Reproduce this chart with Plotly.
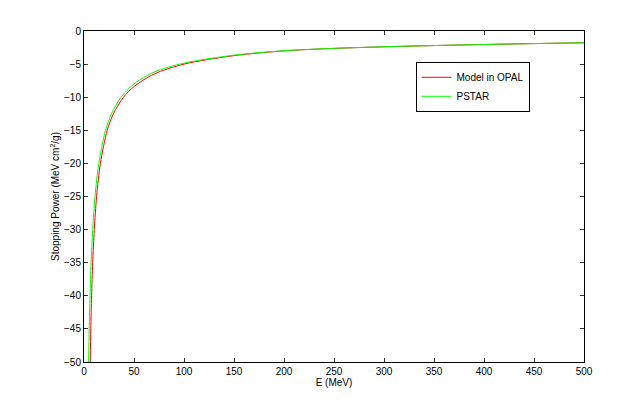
import plotly.graph_objects as go

# energies (MeV) and stopping power values
opal_e = [6.2, 6.8, 7.6, 8.7, 10.3, 12.6, 16.4, 23.2, 29.4, 39.5, 50, 70, 100, 150, 200, 250, 300, 350, 400, 450, 500]
opal_sp = [-50, -45, -40, -35, -30, -25, -20, -15, -12.5, -10, -8.4, -6.5, -5.0, -3.72, -3.0, -2.63, -2.39, -2.2, -2.04, -1.9, -1.78]

pstar_e = [4.6, 5.2, 6.0, 7.1, 8.7, 11.0, 14.8, 21.5, 27.5, 37, 50, 70, 100, 150, 200, 250, 300, 350, 400, 450, 500]
pstar_sp = [-50, -45, -40, -35, -30, -25, -20, -15, -12.5, -10, -8.0, -6.2, -4.85, -3.65, -2.98, -2.62, -2.38, -2.2, -2.04, -1.9, -1.78]

x_ticks = list(range(0, 501, 50))
y_ticks = list(range(-50, 1, 5))

FONT = 'Liberation Sans, Arial, sans-serif'

fig = go.Figure()
fig.add_trace(go.Scatter(x=opal_e, y=opal_sp, mode='lines', name='Model in OPAL',
                         line=dict(color='#ff0000', width=1, shape='spline', smoothing=0.8)))
fig.add_trace(go.Scatter(x=pstar_e, y=pstar_sp, mode='lines', name='PSTAR',
                         line=dict(color='#00ff00', width=1, shape='spline', smoothing=0.8)))

axis_style = dict(showline=True, linecolor='black', linewidth=1, mirror='ticks',
                  ticks='inside', ticklen=4, tickcolor='#333333', showgrid=False,
                  zeroline=False, tickfont=dict(size=10, color='black', family=FONT))

fig.update_xaxes(range=[0, 500], tickvals=x_ticks,
                 title=dict(text='E (MeV)', font=dict(size=10, family=FONT, color='black'), standoff=2),
                 **axis_style)
fig.update_yaxes(range=[-50, 0], tickvals=y_ticks,
                 title=dict(text='Stopping Power (MeV cm<sup>2</sup>/g)', font=dict(size=10, family=FONT, color='black'), standoff=2),
                 **axis_style)

# page body adds an 8px offset, so margins are trimmed to keep the plot box where the reference has it
fig.update_layout(
    width=644, height=407,
    margin=dict(l=76, r=68, t=23, b=53),
    paper_bgcolor='white', plot_bgcolor='white',
    font=dict(family=FONT, size=10, color='black'),
    legend=dict(x=0.663, y=0.907, xanchor='left', yanchor='top',
                bordercolor='black', borderwidth=1, bgcolor='white',
                font=dict(size=10, family=FONT), itemwidth=30,
                tracegroupgap=0),
    showlegend=True,
)

fig.write_html("out.html")
